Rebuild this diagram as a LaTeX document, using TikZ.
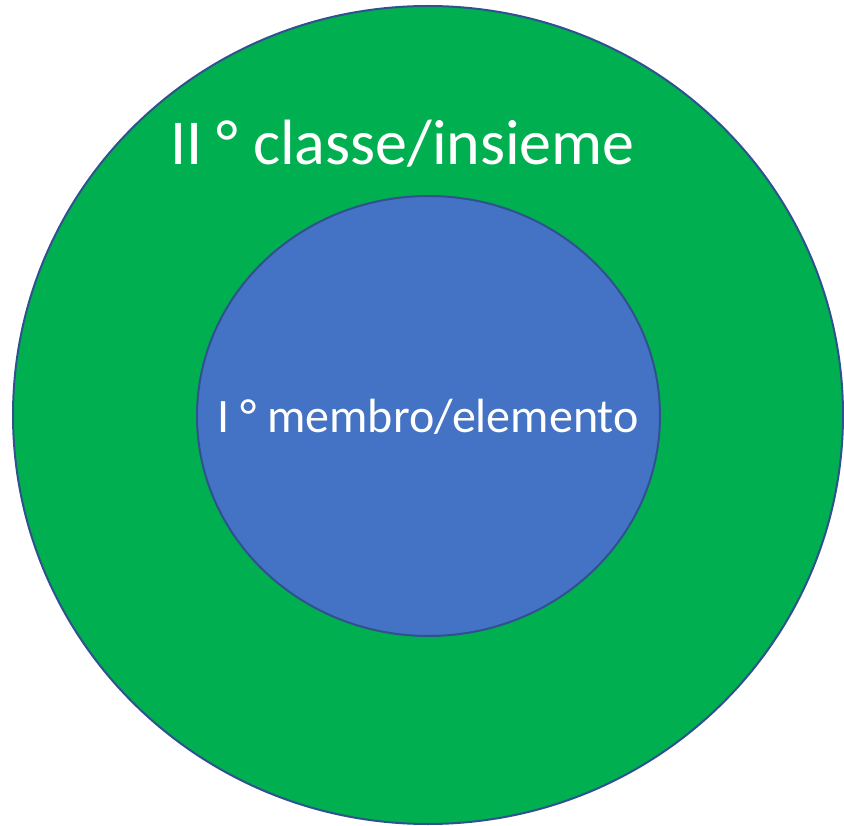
\documentclass[tikz,border=0pt]{standalone}
\usepackage{fontspec}
\setmainfont{Carlito}
\definecolor{setgreen}{HTML}{00B050}
\definecolor{setblue}{HTML}{4472C4}
\definecolor{setedge}{HTML}{2F528F}
\begin{document}
\begin{tikzpicture}[x = 1pt, y = -1pt]
\tikzset{label text/.style = {white, anchor = base, inner sep = 0pt}}
\useasboundingbox (0,0) rectangle (844,826);
\draw [setedge, fill = setgreen, line width = 2pt] (428,415) ellipse [x radius = 415, y radius = 409];
\draw [setedge, fill = setblue, line width = 2pt] (428.5,416) ellipse [x radius = 231.5, y radius = 220];
\node [label text, font = \fontsize{64}{77}\selectfont] (classe) at (402.5,165) {II ° classe/insieme};
\node [label text, font = \fontsize{48}{58}\selectfont] (membro) at (428,432) {I ° membro/elemento};
\end{tikzpicture}
\end{document}
